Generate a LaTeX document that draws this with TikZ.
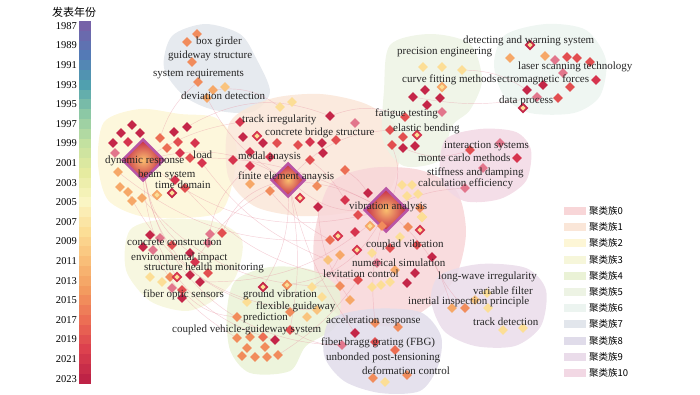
\documentclass[tikz,border=0pt]{standalone}
\usepackage{fontspec}
\setmainfont{Liberation Serif}
\newfontfamily\cjk{Noto Sans CJK SC}
\usetikzlibrary{shapes.geometric}

\definecolor{sp0}{RGB}{118,98,168}
\definecolor{sp1}{RGB}{84,122,182}
\definecolor{sp2}{RGB}{80,160,175}
\definecolor{sp3}{RGB}{140,200,165}
\definecolor{sp4}{RGB}{195,225,160}
\definecolor{sp5}{RGB}{230,235,160}
\definecolor{sp6}{RGB}{250,245,195}
\definecolor{sp7}{RGB}{252,222,150}
\definecolor{sp8}{RGB}{249,190,120}
\definecolor{sp9}{RGB}{243,155,95}
\definecolor{sp10}{RGB}{236,110,84}
\definecolor{sp11}{RGB}{220,65,78}
\definecolor{sp12}{RGB}{190,35,70}

\definecolor{y23}{RGB}{196,38,72}
\definecolor{y21}{RGB}{214,52,78}
\definecolor{y19}{RGB}{226,78,80}
\definecolor{y17}{RGB}{236,110,84}
\definecolor{y15}{RGB}{241,140,92}
\definecolor{y13}{RGB}{246,168,104}
\definecolor{y11}{RGB}{249,196,126}
\definecolor{y08}{RGB}{252,222,150}
\definecolor{pk}{RGB}{226,118,140}
\definecolor{hubring}{RGB}{185,85,165}
\definecolor{hubcore}{RGB}{250,190,110}
\definecolor{linkpink}{RGB}{232,150,165}

\definecolor{cl0}{RGB}{248,214,216}
\definecolor{cl1}{RGB}{250,230,216}
\definecolor{cl2}{RGB}{253,246,214}
\definecolor{cl3}{RGB}{246,246,218}
\definecolor{cl4}{RGB}{234,242,214}
\definecolor{cl5}{RGB}{237,243,228}
\definecolor{cl6}{RGB}{236,244,240}
\definecolor{cl7}{RGB}{226,230,236}
\definecolor{cl8}{RGB}{224,220,234}
\definecolor{cl9}{RGB}{234,220,234}
\definecolor{cl10}{RGB}{242,216,228}

\pgfdeclarelayer{blobs}
\pgfdeclarelayer{links}
\pgfsetlayers{blobs,links,main}

\tikzset{
  kw/.style={diamond, minimum size=10pt, inner sep=0pt, fill=#1},
  hot/.style={diamond, minimum size=9pt, inner sep=0pt, fill=y08, draw=#1, line width=1.9pt},
  hub/.style={diamond, minimum size=#1, inner sep=0pt, draw=hubring, line width=2.5pt, inner color=hubcore, outer color=y23},
  kwlabel/.style={anchor=west, inner sep=0pt, font=\fontsize{11}{12}\selectfont, text=black!85},
  link/.style={draw=linkpink, line width=0.45pt, opacity=0.45},
  yearlabel/.style={anchor=east, inner sep=0pt, font=\fontsize{10.5}{12}\selectfont},
  legendbox/.style={minimum width=22pt, minimum height=8pt, inner sep=0pt},
  legendtext/.style={anchor=west, inner sep=0pt, font=\cjk\fontsize{9.5}{11}\selectfont}
}

\begin{document}
\begin{tikzpicture}[x=1pt,y=-1pt]
\useasboundingbox (0,0) rectangle (700,395);

\begin{pgfonlayer}{blobs}
\begin{scope}[opacity=0.85]
\fill[cl7] plot[smooth cycle] coordinates {(172,36) (205,24) (240,34) (256,58) (270,92) (252,112) (214,110) (184,96) (164,68)};
\fill[cl2] plot[smooth cycle] coordinates {(104,122) (140,109) (180,114) (216,118) (236,145) (232,185) (220,212) (184,218) (140,216) (108,200) (98,164)};
\fill[cl1] plot[smooth cycle] coordinates {(230,122) (270,99) (320,94) (366,104) (396,126) (399,162) (386,196) (350,212) (300,216) (254,206) (228,176)};
\fill[cl0] plot[smooth cycle] coordinates {(330,184) (370,168) (420,170) (456,190) (466,232) (456,276) (430,306) (392,326) (344,318) (318,290) (314,238)};
\fill[cl3] plot[smooth cycle] coordinates {(130,230) (166,219) (216,222) (242,240) (236,276) (214,300) (186,311) (150,301) (126,270)};
\fill[cl4] plot[smooth cycle] coordinates {(236,280) (270,267) (312,270) (339,290) (336,326) (306,346) (290,371) (250,373) (230,350) (227,310)};
\fill[cl5] plot[smooth cycle] coordinates {(390,45) (430,34) (470,44) (482,80) (470,110) (452,126) (440,160) (404,166) (383,140) (384,90)};
\fill[cl6] plot[smooth cycle] coordinates {(505,35) (546,24) (586,30) (606,60) (600,96) (574,113) (530,113) (504,96) (494,64)};
\fill[cl8] plot[smooth cycle] coordinates {(330,320) (370,309) (420,312) (441,336) (438,366) (420,391) (380,393) (344,381) (324,355)};
\fill[cl9] plot[smooth cycle] coordinates {(440,275) (480,264) (526,268) (546,290) (541,326) (515,346) (475,346) (444,331) (431,300)};
\fill[cl10] plot[smooth cycle] coordinates {(445,140) (480,129) (516,132) (531,150) (526,181) (500,199) (464,201) (441,180)};
\end{scope}
\end{pgfonlayer}

\foreach \i in {0,...,36}{
  \pgfmathtruncatemacro{\s}{floor(\i/3)}
  \pgfmathtruncatemacro{\t}{min(\s+1,12)}
  \pgfmathtruncatemacro{\p}{100-100*mod(\i,3)/3}
  \fill[sp\s!\p!sp\t] (79,{21+\i*9.8}) rectangle (91,{21+(\i+1)*9.8});
}
\foreach \i in {0,2,...,36}{
  \pgfmathtruncatemacro{\yr}{1987+\i}
  \node[yearlabel] (yr\i) at (77,{21+(\i+0.5)*9.8}) {\yr};
}
\node[font=\cjk\fontsize{11}{12}\selectfont, inner sep=0pt] (bartitle) at (74,12) {发表年份};

\node[hub=42pt] (hubdyn) at (143,160) {};
\node[hub=34pt] (hubfea) at (288,180) {};
\node[hub=44pt] (hubvib) at (386,210) {};

\foreach \x/\y/\c [count=\n] in {187/42/y15, 197/34/y15, 192/62/y15, 198/82/y15, 213/90/y13, 225/87/y11, 207/98/y13}
  \node[kw=\c] (k7-\n) at (\x,\y) {};
\foreach \x/\y/\c [count=\n] in {132/125/y23, 121/133/y23, 140/133/y23, 113/143/y23, 128/142/y21, 115/153/pk, 160/138/y17, 174/132/y23, 187/127/y23, 167/148/y17, 178/142/y19, 195/143/y21, 180/153/y21, 190/158/y19, 202/163/y21, 118/172/y13, 120/187/y13, 128/192/y13, 132/201/y13, 142/198/y13, 185/188/y19, 175/180/y21}
  \node[kw=\c] (k2-\n) at (\x,\y) {};
\foreach \x/\y/\c [count=\n] in {243/137/y23, 250/152/y21, 263/143/y23, 277/143/y19, 298/145/y19, 310/142/y21, 322/143/y23, 323/153/y23, 330/116/y23, 355/123/pk, 280/107/y08, 292/102/y08, 310/160/y19, 250/166/y21, 270/157/y21, 317/186/y15, 270/191/y15, 250/184/y13, 318/207/y23, 240/122/y21, 336/140/y19, 345/170/y17, 233/160/y21}
  \node[kw=\c] (k1-\n) at (\x,\y) {};
\foreach \x/\y/\c [count=\n] in {368/193/y23, 402/185/y08, 412/185/y08, 407/196/y08, 418/194/y08, 408/227/y15, 358/215/y19, 382/226/y15, 355/232/y21, 340/255/y13, 328/260/y11, 372/253/y08, 390/248/y19, 377/263/pk, 417/245/y19, 432/257/y23, 415/273/y23, 407/283/y23, 372/287/y08, 381/285/y08, 390/282/y08, 358/280/y19, 400/237/y08, 345/200/y21, 420/208/y15, 395/270/y13, 330/240/y17, 350/300/y13, 340/286/y15}
  \node[kw=\c] (k0-\n) at (\x,\y) {};
\foreach \x/\y/\c [count=\n] in {150/235/y23, 160/238/pk, 143/247/y23, 153/250/pk, 172/245/y19, 190/253/y23, 208/243/pk, 210/234/pk, 222/233/y19, 150/277/y08, 162/282/y08, 170/277/y15, 190/275/y23, 200/282/y23, 208/273/y19, 172/288/pk, 182/290/y19, 182/298/y23, 195/262/y21}
  \node[kw=\c] (k3-\n) at (\x,\y) {};
\foreach \x/\y/\c [count=\n] in {312/287/y08, 322/297/y08, 247/302/y08, 237/317/y15, 290/312/y15, 307/317/y11, 317/310/y11, 237/338/y15, 250/337/y15, 263/337/y17, 275/340/y23, 247/348/y15, 265/347/y15, 242/356/y15, 255/357/y15, 267/357/y15, 278/355/y15, 290/330/y19}
  \node[kw=\c] (k4-\n) at (\x,\y) {};
\foreach \x/\y/\c [count=\n] in {423/67/y08, 442/67/y08, 462/70/y08, 425/90/y23, 413/97/y23, 440/98/y23, 427/105/y23, 442/112/pk, 405/117/y19, 390/130/y19, 403/137/y19, 392/145/y19, 403/148/y23, 415/146/y23}
  \node[kw=\c] (k5-\n) at (\x,\y) {};
\foreach \x/\y/\c [count=\n] in {510/58/y13, 545/56/y13, 555/60/pk, 567/57/y19, 577/58/y19, 527/90/y23, 543/85/y23, 570/87/y19, 558/98/y19, 537/97/pk, 563/73/pk, 590/62/y19, 596/80/y21}
  \node[kw=\c] (k6-\n) at (\x,\y) {};
\foreach \x/\y/\c [count=\n] in {375/323/y15, 398/327/y15, 355/333/y23, 342/345/pk, 375/342/y19, 373/378/y15, 385/382/y08, 407/375/y15, 395/350/y17}
  \node[kw=\c] (k8-\n) at (\x,\y) {};
\foreach \x/\y/\c [count=\n] in {452/308/y13, 465/308/y15, 488/308/y08, 503/330/y08, 523/328/y08, 487/293/y08, 475/300/y11}
  \node[kw=\c] (k9-\n) at (\x,\y) {};
\foreach \x/\y/\c [count=\n] in {517/158/y21, 500/143/pk, 465/188/pk, 483/168/pk, 470/150/y19}
  \node[kw=\c] (k10-\n) at (\x,\y) {};

\node[hot=y13] (h2a) at (157,195) {};
\node[hot=y23] (h2b) at (172,193) {};
\node[hot=y21] (h1a) at (257,136) {};
\node[hot=y21] (h1b) at (300,198) {};
\node[hot=y08] (h0a) at (422,217) {};
\node[hot=y21] (h0b) at (420,230) {};
\node[hot=y13] (h0c) at (370,226) {};
\node[hot=y21] (h0d) at (338,236) {};
\node[hot=y21] (h0e) at (357,250) {};
\node[hot=y21] (h3a) at (177,277) {};
\node[hot=y23] (h4a) at (263,287) {};
\node[hot=y15] (h4b) at (287,285) {};
\node[hot=y13] (h5a) at (442,87) {};
\node[hot=y21] (h5b) at (417,135) {};
\node[hot=y23] (h6a) at (530,45) {};
\node[hot=y23] (h6b) at (523,108) {};

\begin{pgfonlayer}{links}
\draw[link] (hubdyn) to[bend left=20] (hubfea);
\draw[link] (hubdyn) to[bend left=15] (hubvib);
\draw[link] (hubdyn) to[bend right=25] (hubvib);
\draw[link] (hubfea) to[bend left=10] (hubvib);
\draw[link] (hubfea) to[bend right=20] (hubvib);
\draw[link] (hubdyn) to[bend right=20] (k3-6);
\draw[link] (hubdyn) to[bend right=30] (k4-3);
\draw[link] (hubdyn) to[bend right=35] (k4-11);
\draw[link] (hubdyn) to[bend left=10] (k1-20);
\draw[link] (k2-15) to[bend right=15] (k0-11);
\draw[link] (k2-21) to[bend right=20] (k0-22);
\draw[link] (k2-9) to[bend left=25] (k1-9);
\draw[link] (hubfea) to[bend right=25] (k3-9);
\draw[link] (hubfea) to[bend right=15] (k3-19);
\draw[link] (hubfea) to[bend left=15] (h4a);
\draw[link] (hubfea) to[bend left=10] (k4-18);
\draw[link] (hubfea) to[bend right=10] (k8-3);
\draw[link] (hubfea) to[bend left=20] (k5-10);
\draw[link] (hubfea) to[bend left=15] (k7-7);
\draw[link] (k1-9) to[bend left=20] (k5-9);
\draw[link] (hubvib) to[bend right=20] (k5-12);
\draw[link] (hubvib) to[bend left=10] (k10-3);
\draw[link] (hubvib) to[bend left=15] (k9-1);
\draw[link] (hubvib) to[bend right=10] (k8-1);
\draw[link] (hubvib) to[bend left=25] (h4b);
\draw[link] (hubvib) to[bend left=20] (k3-14);
\draw[link] (k0-10) to[bend left=15] (k4-1);
\draw[link] (k0-22) to[bend left=10] (k4-17);
\draw[link] (k3-4) to[bend right=15] (k4-8);
\draw[link] (k3-17) to[bend right=20] (k4-4);
\draw[link] (k5-3) to[bend left=15] (k6-6);
\draw[link] (k5-5) to[bend right=10] (k6-10);
\draw[link] (k5-13) to[bend right=20] (k10-5);
\draw[link] (k7-5) to[bend left=20] (k1-11);
\draw[link] (k2-7) to[bend left=15] (k7-4);
\draw[link] (k0-1) to[bend right=10] (k1-22);
\draw[link] (k0-27) to[bend left=20] (k2-16);
\draw[link] (k1-19) to[bend right=15] (k0-28);
\draw[link] (k9-2) to[bend left=10] (k0-16);
\draw[link] (k8-4) to[bend left=15] (k4-18);
\draw[link] (k2-18) to[bend right=30] (k4-7);
\draw[link] (k2-20) to[bend right=25] (k0-29);
\draw[link] (hubdyn) to[bend right=40] (k8-4);
\draw[link] (k1-14) to[bend right=20] (k3-7);
\draw[link] (k1-17) to[bend right=10] (k0-27);
\draw[link] (k1-13) to[bend left=10] (k0-24);
\end{pgfonlayer}

\node[kwlabel] (lbox) at (196,42) {box girder};
\node[kwlabel] (lguide) at (168,56) {guideway structure};
\node[kwlabel] (lsysreq) at (153,74) {system requirements};
\node[kwlabel] (ldev) at (181,96) {deviation detection};
\node[kwlabel] (ltrack) at (242,120) {track irregularity};
\node[kwlabel] (lbridge) at (265,133) {concrete bridge structure};
\node[kwlabel] (ldyn) at (105,161) {dynamic response};
\node[kwlabel] (lload) at (193,155) {load};
\node[kwlabel] (lmodal) at (238,157) {modal anaysis};
\node[kwlabel] (lbeam) at (138,175) {beam system};
\node[kwlabel] (ltime) at (155,185) {time domain};
\node[kwlabel] (lfea) at (238,177) {finite element anaysis};
\node[kwlabel] (lprec) at (397,52) {precision engineering};
\node[kwlabel] (ldetect) at (463,41) {detecting and warning system};
\node[kwlabel] (llaser) at (518,67) {laser scanning technology};
\node[kwlabel] (lemag) at (497,80) {ectromagnetic forces};
\node[kwlabel] (lcurve) at (402,80) {curve fitting methods};
\node[kwlabel] (ldata) at (499,101) {data process};
\node[kwlabel] (lfatigue) at (375,114) {fatigue testing};
\node[kwlabel] (lelastic) at (393,129) {elastic bending};
\node[kwlabel] (linter) at (444,146) {interaction systems};
\node[kwlabel] (lmonte) at (418,158) {monte carlo methods};
\node[kwlabel] (lstiff) at (427,173) {stiffness and damping};
\node[kwlabel] (lcalc) at (418,184) {calculation efficiency};
\node[kwlabel] (lvib) at (349,207) {vibration analysis};
\node[kwlabel] (lcoup) at (366,245) {couplad vibration};
\node[kwlabel] (lnum) at (352,263) {numerical simulation};
\node[kwlabel] (llev) at (323,274) {levitation control};
\node[kwlabel] (lconc) at (127,242) {concrete construction};
\node[kwlabel] (lenv) at (131,258) {environmental impact};
\node[kwlabel] (lshm) at (144,268) {structure health monitoring};
\node[kwlabel] (lfiber) at (143,295) {fiber optic sensors};
\node[kwlabel] (lground) at (243,295) {ground vibration};
\node[kwlabel] (lflex) at (256,307) {flexible guideway};
\node[kwlabel] (lpred) at (243,318) {prediction};
\node[kwlabel] (lcvg) at (172,330) {coupled vehicle-guideway system};
\node[kwlabel] (lacc) at (326,321) {acceleration response};
\node[kwlabel] (lfbg) at (321,343) {fiber bragg grating (FBG)};
\node[kwlabel] (lunb) at (326,358) {unbonded post-tensioning};
\node[kwlabel] (ldef) at (362,371) {deformation control};
\node[kwlabel] (llong) at (438,277) {long-wave irregularity};
\node[kwlabel] (lvar) at (473,291) {variable filter};
\node[kwlabel] (linert) at (408,302) {inertial inspection principle};
\node[kwlabel] (ltrdet) at (473,322) {track detection};

\foreach \k in {0,...,10}{
  \node[legendbox, fill=cl\k] (lg\k) at (575,{211+\k*16.2}) {};
  \node[legendtext] (lt\k) at (589,{211+\k*16.2}) {聚类族\k};
}
\end{tikzpicture}
\end{document}
